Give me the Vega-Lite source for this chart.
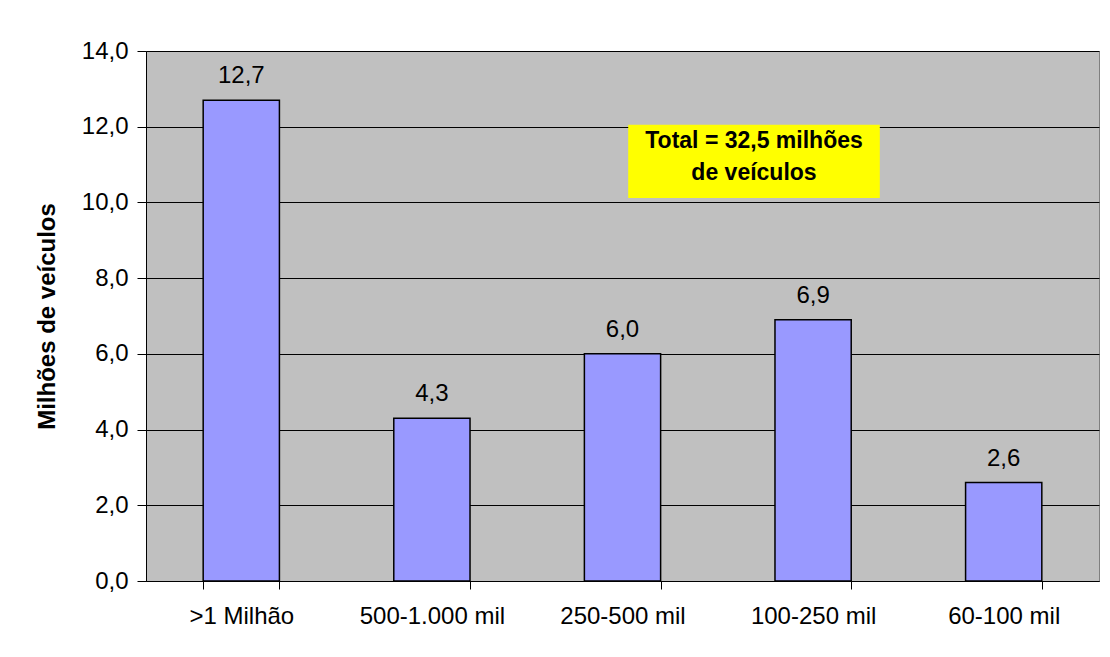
{
  "$schema": "https://vega.github.io/schema/vega-lite/v6.json",
  "width": 953,
  "height": 530,
  "autosize": {"type": "none"},
  "padding": {"left": 146, "top": 51, "right": 11, "bottom": 76},
  "background": "white",
  "config": {
    "locale": {"number": {"decimal": ",", "thousands": ".", "grouping": [3], "currency": ["R$", ""]}},
    "font": "Liberation Sans",
    "view": {"fill": "#C0C0C0", "stroke": "#808080", "strokeWidth": 1}
  },
  "datasets": {
    "bars": [
      {"faixa": ">1 Milhão", "valor": 12.7},
      {"faixa": "500-1.000 mil", "valor": 4.3},
      {"faixa": "250-500 mil", "valor": 6.0},
      {"faixa": "100-250 mil", "valor": 6.9},
      {"faixa": "60-100 mil", "valor": 2.6}
    ],
    "nota": [
      {"x1": 2.53, "x2": 3.85, "y1": 10.12, "y2": 12.05}
    ],
    "notaTexto": [
      {"x": 3.19, "y": 11.62, "t": "Total = 32,5 milhões"},
      {"x": 3.19, "y": 10.78, "t": "de veículos"}
    ]
  },
  "layer": [
    {
      "data": {"name": "bars"},
      "layer": [
        {
          "mark": {"type": "bar", "fill": "#9999FF", "stroke": "black", "strokeWidth": 1.5},
          "encoding": {
            "x": {
              "field": "faixa", "type": "nominal", "sort": null,
              "scale": {"paddingInner": 0.6, "paddingOuter": 0.3},
              "axis": {"title": null, "labelAngle": 0, "labelFontSize": 24, "labelColor": "black",
                       "tickBand": "extent", "tickSize": 8, "tickColor": "black", "domainColor": "black",
                       "labelPadding": 15, "grid": false}
            },
            "y": {
              "field": "valor", "type": "quantitative",
              "scale": {"domain": [0, 14]},
              "axis": {"title": "Milhões de veículos", "titleFontSize": 24, "titleFontWeight": "bold",
                       "titleColor": "black", "titlePadding": 22,
                       "values": [0, 2, 4, 6, 8, 10, 12, 14], "format": ".1f",
                       "labelFontSize": 24, "labelColor": "black", "labelPadding": 9,
                       "tickSize": 9, "tickColor": "black", "domainColor": "black",
                       "grid": true, "gridColor": "black", "gridOpacity": 1}
            }
          }
        },
        {
          "mark": {"type": "text", "baseline": "alphabetic", "dy": -17, "fontSize": 24, "color": "black"},
          "encoding": {
            "x": {"field": "faixa", "type": "nominal", "sort": null},
            "y": {"field": "valor", "type": "quantitative"},
            "text": {"field": "valor", "type": "quantitative", "format": ".1f"}
          }
        }
      ]
    },
    {
      "data": {"name": "nota"},
      "mark": {"type": "rect", "fill": "#FFFF00"},
      "encoding": {
        "x": {"field": "x1", "type": "quantitative", "scale": {"domain": [0, 5]}, "axis": null},
        "x2": {"field": "x2"},
        "y": {"field": "y1", "type": "quantitative"},
        "y2": {"field": "y2"}
      }
    },
    {
      "data": {"name": "notaTexto"},
      "mark": {"type": "text", "fontSize": 23, "fontWeight": "bold", "color": "black"},
      "encoding": {
        "x": {"field": "x", "type": "quantitative", "scale": {"domain": [0, 5]}, "axis": null},
        "y": {"field": "y", "type": "quantitative"},
        "text": {"field": "t"}
      }
    }
  ],
  "resolve": {"scale": {"x": "independent"}}
}
